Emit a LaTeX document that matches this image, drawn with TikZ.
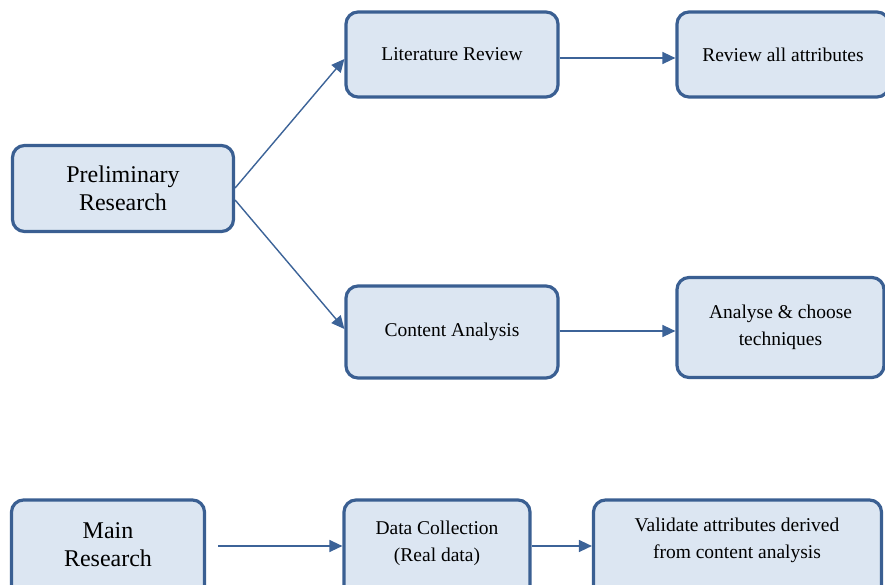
\documentclass[tikz,border=0pt]{standalone}
\usepackage{fontspec}
\setmainfont{Liberation Serif}
\usetikzlibrary{arrows.meta}
\definecolor{boxfill}{HTML}{DCE6F2}
\definecolor{boxline}{HTML}{3A5F92}
\definecolor{linkline}{HTML}{3C6398}
\tikzset{
  stepbox/.style={draw=boxline, line width=3.2pt, fill=boxfill, rounded corners=12pt,
    inner sep=0pt, align=center, font=\fontsize{19.5}{27}\selectfont},
  bigbox/.style={stepbox, font=\fontsize{24}{28}\selectfont},
  link/.style={draw=linkline, line width=1.4pt, -{Triangle[length=13pt,width=12pt]}},
}
\begin{document}
\begin{tikzpicture}[x=1pt,y=-1pt]
\useasboundingbox (0,0) rectangle (885,585);
\clip (0,0) rectangle (885,585);

% upper branch
\node[bigbox, minimum width=221pt, minimum height=86pt] (prelim) at (123,188.5) {Preliminary\\Research};
\node[stepbox, minimum width=212pt, minimum height=85pt] (lit) at (452,54.5) {Literature Review};
\node[stepbox, minimum width=212pt, minimum height=85pt] (rev) at (783,54.5) {Review all attributes};
\node[stepbox, minimum width=212pt, minimum height=92pt] (cont) at (452,332) {Content Analysis};
\node[stepbox, minimum width=207pt, minimum height=100pt] (ana) at (780.5,327.5) {Analyse \& choose\\techniques};

% lower branch (boxes run past the lower edge)
\node[bigbox, minimum width=193pt, minimum height=100pt] (mainr) at (108,550) {};
\node[font=\fontsize{24}{28}\selectfont, align=center] at (108,545) {Main\\Research};
\node[stepbox, minimum width=186pt, minimum height=100pt] (data) at (437,550) {};
\node[font=\fontsize{19.5}{27}\selectfont, align=center] at (437,543) {Data Collection\\(Real data)};
\node[stepbox, minimum width=288pt, minimum height=100pt] (val) at (737.5,550) {};
\node[font=\fontsize{19.5}{27}\selectfont, align=center] at (737,540) {Validate attributes derived\\from content analysis};
\coordinate (mainout) at (218,546);

% connectors
\draw[link] (prelim.east |- 0,188) -- (lit.west |- 0,59);
\draw[link] (prelim.east |- 0,200) -- (cont.west |- 0,329);
\draw[link] (lit.east |- 0,58) -- (rev.west |- 0,58);
\draw[link] (cont.east |- 0,331) -- (ana.west |- 0,331);
\draw[link] (mainout) -- (data.west |- 0,546);
\draw[link] (data.east |- 0,546) -- (val.west |- 0,546);
\end{tikzpicture}
\end{document}
